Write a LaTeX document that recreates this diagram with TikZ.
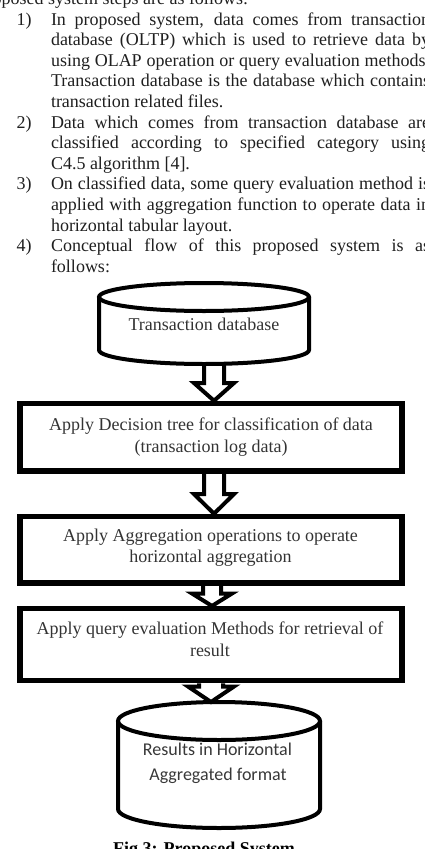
\documentclass[tikz,border=0pt]{standalone}
\usepackage{fontspec}
\setmainfont{Liberation Serif}
\newfontfamily\calfont{Carlito}
\usetikzlibrary{calc}
\newcommand\JustLine[1]{\makebox[379pt][s]{#1}}
\tikzset{
  para/.style={anchor=base west, inner sep=0pt, outer sep=0pt, text=black!88, font=\fontsize{18}{20.6}\selectfont},
  boxnode/.style={draw=black, line width=5.5pt, minimum width=382pt, minimum height=#1, inner sep=0pt},
  boxtext/.style={anchor=base, inner sep=0pt, outer sep=0pt, text=black!80, font=\fontsize{18}{22}\selectfont},
  cyltext/.style={anchor=base, inner sep=0pt, outer sep=0pt, text=black!78, font=\calfont\fontsize{18}{25}\selectfont},
  cylnode/.style={inner sep=0pt, outer sep=0pt},
  cylline/.style={line width=4pt, draw=black},
  barrow/.style={line width=4pt, draw=black, line join=miter},
}
\begin{document}
\begin{tikzpicture}[x=1pt,y=1pt]
\useasboundingbox (0,0) rectangle (425,-849);
% ---------------- paragraph text ----------------
\node[para, anchor=base east] (p0) at (248,-4.4) {Proposed system steps are as follows:};
\node[para] (n1) at (16.7,-25) {1)};
\node[para] (p1a) at (51,-25) {\JustLine{In proposed system, data comes from transaction}};
\node[para] (p1b) at (51,-45.6) {\JustLine{database (OLTP) which is used to retrieve data by}};
\node[para] (p1c) at (51,-66.2) {\JustLine{using OLAP operation or query evaluation methods.}};
\node[para] (p1d) at (51,-86.8) {\JustLine{Transaction database is the database which contains}};
\node[para] (p1e) at (51,-107.4) {transaction related files.};
\node[para] (n2) at (16.7,-128) {2)};
\node[para] (p2a) at (51,-128) {\JustLine{Data which comes from transaction database are}};
\node[para] (p2b) at (51,-148.6) {\JustLine{classified according to specified category using}};
\node[para] (p2c) at (51,-169.2) {C4.5 algorithm [4].};
\node[para] (n3) at (16.7,-189.8) {3)};
\node[para] (p3a) at (51,-189.8) {\JustLine{On classified data, some query evaluation method is}};
\node[para] (p3b) at (51,-210.4) {\JustLine{applied with aggregation function to operate data in}};
\node[para] (p3c) at (51,-231) {horizontal tabular layout.};
\node[para] (n4) at (16.7,-251.6) {4)};
\node[para] (p4a) at (51,-251.6) {\JustLine{Conceptual flow of this proposed system is as}};
\node[para] (p4b) at (51,-272.2) {follows:};
% ---------------- top cylinder ----------------
\node[cylnode, minimum width=210pt, minimum height=81pt] (db1) at (204,-323.5) {};
\draw[cylline] ($(db1.north)+(0,-14)$) ellipse [x radius=105, y radius=14];
\draw[cylline] ($(db1.north west)+(0,-14)$) -- ($(db1.south west)+(0,14)$)
  arc [start angle=180, end angle=360, x radius=105, y radius=14] -- ($(db1.north east)+(0,-14)$);
\node[boxtext] (db1t) at (204,-330) {Transaction database};
% ---------------- boxes ----------------
\node[boxnode=67.5pt] (b1) at (211,-437.25) {};
\node[boxtext] (b1a) at (211,-430) {Apply Decision tree for classification of data};
\node[boxtext] (b1b) at (211,-452) {(transaction log data)};
\node[boxnode=66.5pt] (b2) at (211,-549.75) {};
\node[boxtext] (b2a) at (210.5,-541.7) {Apply Aggregation operations to operate};
\node[boxtext] (b2b) at (210.5,-562.7) {horizontal aggregation};
\node[boxnode=71.8pt] (b3) at (211,-644.6) {};
\node[boxtext] (b3a) at (210,-634) {Apply query evaluation Methods for retrieval of};
\node[boxtext] (b3b) at (210,-656.7) {result};
% ---------------- bottom cylinder ----------------
\node[cylnode, minimum width=202pt, minimum height=126pt] (db2) at (219,-765) {};
\draw[cylline] ($(db2.north)+(0,-19)$) ellipse [x radius=101, y radius=19];
\draw[cylline] ($(db2.north west)+(0,-19)$) -- ($(db2.south west)+(0,19)$)
  arc [start angle=180, end angle=360, x radius=101, y radius=19] -- ($(db2.north east)+(0,-19)$);
\node[cyltext] (db2a) at (217.5,-755) {Results in Horizontal};
\node[cyltext] (db2b) at (218,-780) {Aggregated format};
% ---------------- block arrows ----------------
\draw[barrow] (204,0 |- db1.south) -- (204,-383) -- (194,-383) -- (214,0 |- b1.north)
  -- (234,-383) -- (224,-383) -- (224,0 |- db1.south);
\draw[barrow] (204,0 |- b1.south) -- (204,-494) -- (194,-494) -- (214,0 |- b2.north)
  -- (234,-494) -- (224,-494) -- (224,0 |- b1.south);
\draw[barrow] (203,0 |- b2.south) -- (203,-593.5) -- (192,-593.5) -- (212,0 |- b3.north)
  -- (232,-593.5) -- (221,-593.5) -- (221,0 |- b2.south);
\draw[barrow] (199,0 |- b3.south) -- (199,-686.5) -- (188,-686.5) -- (211,0 |- db2.north)
  -- (234,-686.5) -- (223,-686.5) -- (223,0 |- b3.south);
% ---------------- caption ----------------
\node[anchor=base, inner sep=0pt, font=\fontsize{18}{20}\selectfont\bfseries] (cap) at (204,-854) {Fig 3: Proposed System};
\end{tikzpicture}
\end{document}
